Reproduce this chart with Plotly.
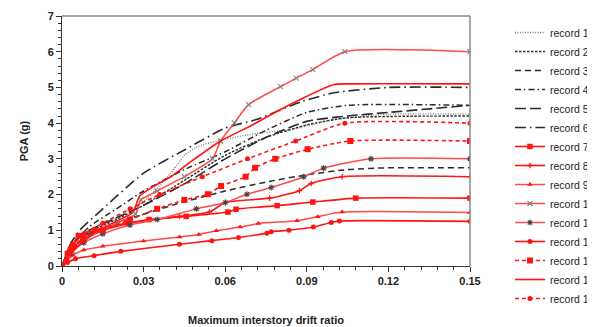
import plotly.graph_objects as go

# ---- data (drift ratio, PGA in g) ----
r1_x = [0, 0.004, 0.01, 0.02, 0.03, 0.04, 0.045, 0.05, 0.06, 0.0714, 0.086, 0.1, 0.12, 0.15]
r1_y = [0, 0.5, 0.95, 1.35, 1.8, 2.6, 3.1, 3.35, 3.55, 3.71, 3.85, 4.1, 4.25, 4.25]
r2_x = [0, 0.005, 0.01, 0.02, 0.03, 0.045, 0.06, 0.075, 0.09, 0.105, 0.15]
r2_y = [0, 0.6, 0.95, 1.3, 1.7, 2.4, 3.1, 3.6, 3.95, 4.15, 4.2]
r3_x = [0, 0.005, 0.01, 0.02, 0.03, 0.0432, 0.06, 0.075, 0.0897, 0.105, 0.12, 0.15]
r3_y = [0, 0.55, 0.9, 1.2, 1.45, 1.76, 2.1, 2.35, 2.55, 2.7, 2.75, 2.75]
r4_x = [0, 0.004, 0.01, 0.02, 0.03, 0.045, 0.06, 0.075, 0.09, 0.105, 0.15]
r4_y = [0, 0.6, 1.1, 1.6, 2.1, 2.7, 3.2, 3.8, 4.3, 4.5, 4.5]
r5_x = [0, 0.005, 0.01, 0.02, 0.03, 0.045, 0.06, 0.075, 0.09, 0.105, 0.12, 0.15]
r5_y = [0, 0.7, 1.0, 1.35, 1.7, 2.3, 3.0, 3.6, 4.05, 4.2, 4.3, 4.5]
r6_x = [0, 0.003, 0.0065, 0.015, 0.03, 0.045, 0.06, 0.0714, 0.088, 0.1, 0.12, 0.15]
r6_y = [0, 0.6, 1.0, 1.6, 2.6, 3.25, 3.86, 4.1, 4.6, 4.85, 5.0, 5.0]
r7_x = [0, 0.002, 0.004, 0.006, 0.012, 0.024, 0.032, 0.0457, 0.061, 0.064, 0.0791, 0.0922, 0.108, 0.15]
r7_y = [0, 0.35, 0.6, 0.85, 1.0, 1.2, 1.3, 1.39, 1.51, 1.59, 1.69, 1.79, 1.9, 1.9]
r8_x = [0, 0.003, 0.008, 0.015, 0.025, 0.0432, 0.0542, 0.0601, 0.0763, 0.0873, 0.0916, 0.103, 0.15]
r8_y = [0, 0.4, 0.8, 1.0, 1.2, 1.39, 1.51, 1.78, 1.9, 2.11, 2.31, 2.5, 2.5]
r9_x = [0, 0.002, 0.004, 0.008, 0.015, 0.03, 0.0432, 0.0503, 0.0567, 0.0655, 0.0722, 0.0864, 0.094, 0.103, 0.15]
r9_y = [0, 0.15, 0.3, 0.45, 0.55, 0.7, 0.81, 0.88, 0.99, 1.09, 1.19, 1.27, 1.38, 1.51, 1.5]
r10_x = [0, 0.004, 0.01, 0.02, 0.027, 0.029, 0.035, 0.045, 0.0553, 0.0583, 0.0634, 0.0686, 0.0803, 0.0861, 0.0922, 0.104, 0.15]
r10_y = [0, 0.4, 0.8, 1.2, 1.45, 1.85, 2.1, 2.5, 3.0, 3.5, 4.01, 4.52, 5.02, 5.26, 5.5, 6.0, 6.0]
r11_x = [0, 0.003, 0.008, 0.015, 0.025, 0.035, 0.0494, 0.0601, 0.068, 0.0769, 0.0889, 0.0962, 0.1136, 0.15]
r11_y = [0, 0.35, 0.65, 0.9, 1.15, 1.3, 1.6, 1.78, 2.01, 2.2, 2.5, 2.74, 3.0, 3.0]
r12_x = [0, 0.002, 0.005, 0.0118, 0.0216, 0.0432, 0.0551, 0.0649, 0.0753, 0.0769, 0.0834, 0.0924, 0.099, 0.102, 0.15]
r12_y = [0, 0.1, 0.2, 0.29, 0.41, 0.61, 0.71, 0.8, 0.92, 0.96, 1.0, 1.09, 1.22, 1.26, 1.25]
r13_x = [0, 0.003, 0.008, 0.015, 0.025, 0.035, 0.045, 0.0536, 0.0585, 0.0675, 0.071, 0.0784, 0.0903, 0.106, 0.15]
r13_y = [0, 0.4, 0.75, 1.0, 1.3, 1.6, 1.85, 2.01, 2.24, 2.5, 2.75, 3.0, 3.27, 3.5, 3.5]
r14_x = [0, 0.005, 0.012, 0.02, 0.026, 0.0285, 0.033, 0.04, 0.047, 0.0583, 0.07, 0.08, 0.0897, 0.1, 0.105, 0.15]
r14_y = [0, 0.5, 0.95, 1.25, 1.5, 1.95, 2.2, 2.5, 2.9, 3.5, 3.95, 4.37, 4.74, 5.08, 5.1, 5.1]
r15_x = [0, 0.003, 0.008, 0.015, 0.025, 0.0359, 0.0516, 0.0682, 0.0859, 0.104, 0.15]
r15_y = [0, 0.5, 0.9, 1.2, 1.6, 2.0, 2.5, 3.0, 3.5, 4.0, 4.0]

RED = "#ff1414"
RED_L = "#ff4a4a"
BLK = "#2a2a2a"

series = [
    ("record 1", r1_x, r1_y, dict(color="#7a7a7a", width=1.3, dash="1px,1.5px"), None),
    ("record 2", r2_x, r2_y, dict(color=BLK, width=1.4, dash="2.5px,1.5px"), None),
    ("record 3", r3_x, r3_y, dict(color=BLK, width=1.5, dash="6px,4px"), None),
    ("record 4", r4_x, r4_y, dict(color=BLK, width=1.5, dash="6px,3px,1.5px,3px"), None),
    ("record 5", r5_x, r5_y, dict(color=BLK, width=1.6, dash="11px,4px"), None),
    ("record 6", r6_x, r6_y, dict(color=BLK, width=1.6, dash="11px,4px,1.5px,4px"), None),
    ("record 7", r7_x, r7_y, dict(color=RED, width=1.6), dict(symbol="square", size=5.5, color=RED)),
    ("record 8", r8_x, r8_y, dict(color=RED, width=1.6), dict(symbol="cross-thin-open", size=4, color=RED, line=dict(color=RED, width=1.3))),
    ("record 9", r9_x, r9_y, dict(color=RED_L, width=1.5), dict(symbol="triangle-up", size=5, color=RED)),
    ("record 10", r10_x, r10_y, dict(color=RED_L, width=1.5), dict(symbol="x-thin-open", size=5, color="#808080", line=dict(color="#808080", width=1.1))),
    ("record 11", r11_x, r11_y, dict(color=RED_L, width=1.5), dict(symbol="asterisk-open", size=5, color="#444444", line=dict(color="#444444", width=1.1))),
    ("record 12", r12_x, r12_y, dict(color=RED, width=1.6), dict(symbol="circle", size=5, color=RED)),
    ("record 13", r13_x, r13_y, dict(color=RED, width=1.6, dash="4px,3px"), dict(symbol="square", size=6, color=RED)),
    ("record 14", r14_x, r14_y, dict(color=RED, width=1.6), None),
    ("record 15", r15_x, r15_y, dict(color=RED, width=1.6, dash="4px,3px"), dict(symbol="circle", size=5, color=RED)),
]

fig = go.Figure()
for name, xs, ys, line, marker in series:
    fig.add_trace(go.Scatter(
        x=xs, y=ys, name=name,
        mode="lines+markers" if marker else "lines",
        line=dict(shape="spline", smoothing=0.6, **line),
        marker=marker if marker else None,
    ))

W, H = 587, 319
fig.update_layout(
    width=W, height=H,
    margin=dict(l=54, r=125, t=8, b=61, autoexpand=False),
    paper_bgcolor="white", plot_bgcolor="white",
    font=dict(family="Liberation Sans, Arial, sans-serif", color="#222"),
    legend=dict(x=1.098, y=1 - 10 / H, yref="container", xanchor="left", yanchor="top",
                font=dict(size=10.5, color="#222"), itemwidth=30, maxheight=312,
                tracegroupgap=0, bgcolor="rgba(0,0,0,0)"),
    xaxis=dict(range=[0, 0.15], dtick=0.03, tick0=0, showgrid=False, zeroline=False,
               showline=True, linecolor="#333", linewidth=1,
               ticks="outside", ticklen=5, tickcolor="#333",
               minor=dict(dtick=0.006, ticks="outside", ticklen=3, tickcolor="#333"),
               tickfont=dict(size=11, family="Liberation Sans, Arial", color="#222"),
               tickformat="~g",
               title=dict(text="<b>Maximum interstory drift ratio</b>", font=dict(size=11), standoff=30)),
    yaxis=dict(range=[0, 7], dtick=1, showgrid=False, zeroline=False,
               showline=True, linecolor="#333", linewidth=1,
               ticks="outside", ticklen=5, tickcolor="#333",
               minor=dict(dtick=0.2, ticks="outside", ticklen=3, tickcolor="#333"),
               tickfont=dict(size=11, family="Liberation Sans, Arial", color="#222"),
               title=dict(text="<b>PGA (g)</b>", font=dict(size=11), standoff=16)),
)
fig.update_xaxes(tickprefix="<b>", ticksuffix="</b>")
fig.update_yaxes(tickprefix="<b>", ticksuffix="</b>")

# grey frame on top and right
fig.add_shape(type="line", xref="paper", yref="paper", x0=0, x1=1, y0=1, y1=1,
              line=dict(color="#8a8a8a", width=1.5))
fig.add_shape(type="line", xref="paper", yref="paper", x0=1, x1=1, y0=0, y1=1,
              line=dict(color="#8a8a8a", width=1.5))

fig.write_html("out.html")
